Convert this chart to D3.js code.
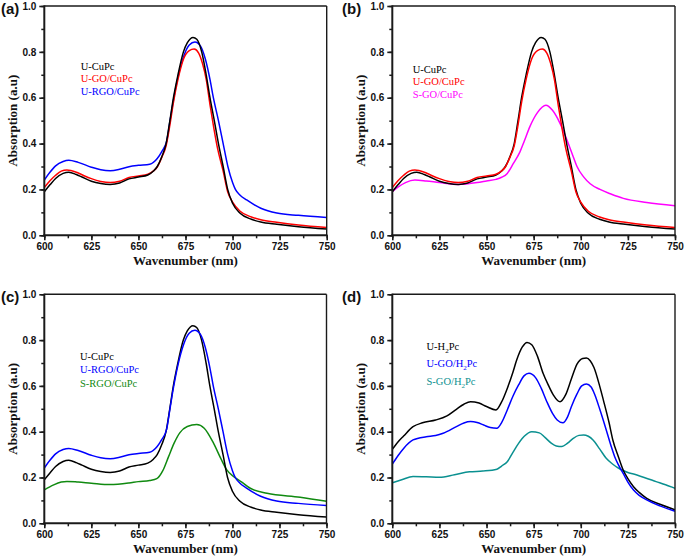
<!DOCTYPE html>
<html><head><meta charset="utf-8">
<script src="https://cdn.jsdelivr.net/npm/d3@7"></script>
<style>
body{margin:0;background:#fff;}
svg{display:block;}
</style>
</head><body>
<svg id="chart" width="685" height="557"></svg>
<script>
// ---- data (wavelength nm, absorption a.u.) ----
const uCuPc = [[600,0.19],[603,0.22],[606,0.248],[610,0.27],[613,0.275],[617,0.265],[620,0.254],[625,0.236],[630,0.226],[635,0.222],[640,0.228],[645,0.246],[650,0.254],[655,0.263],[658,0.28],[660,0.3],[662.4,0.343],[664.7,0.4],[666.7,0.5],[668.6,0.6],[671,0.7],[673.9,0.8],[676,0.84],[679,0.863],[681,0.855],[683.6,0.8],[686,0.7],[688,0.6],[690.3,0.5],[692.5,0.4],[695,0.3],[697.4,0.2],[700,0.14],[704,0.096],[710,0.07],[715,0.058],[723.5,0.048],[735,0.037],[750,0.027]];
const uGOCuPc = [[600,0.208],[603,0.238],[606,0.262],[609,0.28],[612,0.285],[617,0.275],[620,0.264],[625,0.247],[630,0.235],[635,0.23],[640,0.236],[645,0.252],[650,0.259],[655,0.266],[658,0.281],[660,0.298],[662.4,0.34],[664.7,0.39],[666.7,0.48],[668.6,0.58],[671,0.68],[674,0.77],[677,0.805],[679.6,0.812],[682,0.795],[684,0.75],[686,0.68],[688,0.57],[690,0.47],[692,0.38],[695,0.28],[697.4,0.19],[700,0.145],[704,0.105],[710,0.08],[715,0.068],[723.5,0.057],[735,0.045],[750,0.034]];
const uRGOCuPc = [[600,0.241],[603,0.275],[606,0.303],[610,0.322],[613,0.327],[618,0.318],[625,0.297],[630,0.286],[635,0.282],[640,0.288],[645,0.299],[650,0.305],[656,0.31],[660,0.335],[662.4,0.365],[665,0.41],[666.8,0.5],[668.6,0.59],[671,0.69],[674,0.78],[677,0.83],[680,0.843],[683,0.825],[685.5,0.77],[688,0.68],[689.8,0.6],[692.5,0.5],[695,0.4],[697.5,0.3],[700,0.23],[701.5,0.2],[704,0.175],[707.5,0.154],[715,0.118],[723.5,0.097],[735,0.087],[750,0.078]];
const sGOCuPc = [[600,0.19],[603,0.21],[607,0.23],[612,0.241],[618,0.237],[625,0.23],[635,0.222],[645,0.23],[650,0.237],[655,0.244],[658,0.253],[661,0.27],[664,0.31],[667.8,0.365],[670,0.41],[673,0.474],[677,0.535],[681.5,0.567],[685,0.545],[689,0.488],[692,0.43],[696,0.343],[698,0.3],[701.4,0.256],[705,0.225],[710.2,0.2],[716,0.18],[722.6,0.161],[735,0.143],[750,0.129]];
const sRGOCuPc = [[600,0.146],[605,0.168],[609,0.18],[612,0.183],[618,0.18],[625,0.175],[635,0.169],[645,0.176],[650,0.182],[656,0.187],[659.8,0.195],[663,0.23],[666,0.29],[669,0.35],[672,0.395],[676,0.423],[681,0.431],[685,0.415],[690,0.349],[694,0.28],[697,0.233],[700.7,0.204],[705,0.18],[709.5,0.153],[718.4,0.131],[736,0.114],[750,0.096]];
const uH2Pc = [[600,0.323],[603,0.355],[606,0.381],[611,0.422],[616,0.439],[623,0.451],[629,0.469],[634,0.498],[638,0.52],[641.5,0.531],[646,0.525],[650,0.51],[655,0.495],[658,0.53],[661,0.589],[664,0.66],[666,0.713],[669,0.77],[671.5,0.79],[674,0.78],[677,0.73],[680,0.655],[683,0.6],[685.5,0.56],[689,0.531],[692,0.562],[695,0.63],[698,0.695],[701,0.72],[703,0.722],[705,0.71],[707,0.68],[710,0.6],[712,0.538],[715,0.44],[717,0.364],[720,0.29],[722.5,0.233],[725,0.195],[728,0.16],[731,0.135],[735,0.109],[742,0.083],[750,0.059]];
const uGOH2Pc = [[600,0.258],[603,0.295],[606,0.327],[611,0.364],[618,0.378],[623,0.383],[627,0.393],[634,0.422],[638,0.438],[641.5,0.444],[645,0.44],[648.5,0.429],[652,0.418],[655.5,0.415],[658,0.44],[661,0.495],[664,0.555],[667,0.604],[670,0.645],[672.5,0.655],[676,0.636],[679,0.59],[682,0.531],[685,0.48],[687.5,0.451],[690.5,0.439],[693,0.465],[695,0.509],[698,0.565],[700.5,0.6],[703,0.608],[705.5,0.595],[707.5,0.56],[710,0.5],[713,0.422],[716,0.34],[718,0.291],[720,0.255],[722.5,0.218],[725,0.18],[728,0.145],[731,0.122],[735,0.102],[742,0.076],[750,0.053]];
const sGOH2Pc = [[600,0.177],[605,0.19],[611,0.204],[618,0.203],[625,0.201],[633,0.212],[641,0.225],[648,0.228],[655.5,0.236],[658,0.25],[661,0.269],[664,0.31],[667,0.349],[670,0.38],[674,0.4],[678,0.395],[681,0.375],[684.5,0.349],[687,0.338],[690,0.335],[693,0.35],[696,0.371],[699,0.384],[701.5,0.386],[704,0.38],[706.5,0.364],[710,0.325],[713.5,0.284],[717,0.258],[721,0.236],[725,0.222],[728,0.215],[734,0.199],[740,0.182],[745,0.168],[750,0.153]];

const xTicks = [600,625,650,675,700,725,750];
const yTicks = [0.0,0.2,0.4,0.6,0.8,1.0];
const xTitle = "Wavenumber (nm)";
const yTitle = "Absorption (a.u)";

// ---- layout ----
const C = {black:"#000000", red:"#ff0000", blue:"#0000ff", magenta:"#ff00ff", green:"#108a10", teal:"#0a9090"};
const panels = [
  {tag:"(a)", tagX:1, tagY:13.5, x0:44.3, x1:326.7, y0:6, y1:235.3, legX:80.7, legY:[69.5,82,94.5],
   series:[{name:"U-CuPc",d:uCuPc,c:C.black},{name:"U-GO/CuPc",d:uGOCuPc,c:C.red},{name:"U-RGO/CuPc",d:uRGOCuPc,c:C.blue}],
   draw:[2,1,0]},
  {tag:"(b)", tagX:342, tagY:13.5, x0:392.3, x1:675, y0:6, y1:235.3, legX:412.7, legY:[72.5,85,98],
   series:[{name:"U-CuPc",d:uCuPc,c:C.black},{name:"U-GO/CuPc",d:uGOCuPc,c:C.red},{name:"S-GO/CuPc",d:sGOCuPc,c:C.magenta}],
   draw:[2,0,1]},
  {tag:"(c)", tagX:1, tagY:302, x0:44.3, x1:326.5, y0:294.3, y1:523.3, legX:80, legY:[360,373.3,386.6],
   series:[{name:"U-CuPc",d:uCuPc,c:C.black},{name:"U-RGO/CuPc",d:uRGOCuPc,c:C.blue},{name:"S-RGO/CuPc",d:sRGOCuPc,c:C.green}],
   draw:[2,0,1]},
  {tag:"(d)", tagX:342, tagY:302, x0:392.3, x1:675, y0:294.3, y1:523.3, legX:426.5, legY:[350,367,384.5],
   series:[{name:"U-H|2|Pc",d:uH2Pc,c:C.black},{name:"U-GO/H|2|Pc",d:uGOH2Pc,c:C.blue},{name:"S-GO/H|2|Pc",d:sGOH2Pc,c:C.teal}],
   draw:[2,0,1]}
];

const svg = d3.select("#chart");
const defs = svg.append("defs");
const tickFont = "'Liberation Sans', Arial, sans-serif";
const serif = "'Liberation Serif', 'Times New Roman', serif";
const axisColor = "#1a1a1a";

panels.forEach((p, i) => {
  const x = d3.scaleLinear().domain([600,750]).range([p.x0,p.x1]);
  const y = d3.scaleLinear().domain([0,1]).range([p.y1,p.y0]);
  const g = svg.append("g");

  defs.append("clipPath").attr("id","clip"+i).append("rect")
    .attr("x",p.x0).attr("y",p.y0).attr("width",p.x1-p.x0).attr("height",p.y1-p.y0);

  // curves
  const line = d3.line().x(d=>x(d[0])).y(d=>y(d[1])).curve(d3.curveMonotoneX);
  const cg = g.append("g").attr("clip-path","url(#clip"+i+")");
  p.draw.forEach(k => {
    const s = p.series[k];
    cg.append("path").datum(s.d).attr("d",line)
      .attr("fill","none").attr("stroke",s.c).attr("stroke-width",1.5)
      .attr("stroke-linejoin","round");
  });

  // frame (top/right thinner)
  g.append("line").attr("x1",p.x0).attr("x2",p.x1).attr("y1",p.y0).attr("y2",p.y0).attr("stroke",axisColor).attr("stroke-width",1.4);
  g.append("line").attr("x1",p.x1).attr("x2",p.x1).attr("y1",p.y0).attr("y2",p.y1).attr("stroke",axisColor).attr("stroke-width",1.4);

  // minor ticks
  const xMinor = d3.range(600,750.1,12.5);
  const yMinor = d3.range(0,1.001,0.1);
  g.append("g").attr("transform",`translate(0,${p.y1})`)
    .call(d3.axisBottom(x).tickValues(xMinor).tickSize(3).tickSizeOuter(0).tickFormat(""))
    .call(a=>a.select(".domain").remove())
    .call(a=>a.selectAll("line").attr("stroke",axisColor).attr("stroke-width",1.5));
  g.append("g").attr("transform",`translate(${p.x0},0)`)
    .call(d3.axisLeft(y).tickValues(yMinor).tickSize(3).tickSizeOuter(0).tickFormat(""))
    .call(a=>a.select(".domain").remove())
    .call(a=>a.selectAll("line").attr("stroke",axisColor).attr("stroke-width",1.5));

  // major axes
  const xa = g.append("g").attr("transform",`translate(0,${p.y1})`)
    .call(d3.axisBottom(x).tickValues(xTicks).tickSize(5).tickSizeOuter(0).tickPadding(3).tickFormat(d3.format("d")));
  const ya = g.append("g").attr("transform",`translate(${p.x0},0)`)
    .call(d3.axisLeft(y).tickValues(yTicks).tickSize(5).tickSizeOuter(0).tickPadding(3).tickFormat(d3.format(".1f")));
  [xa,ya].forEach(a=>{
    a.select(".domain").attr("stroke",axisColor).attr("stroke-width",2);
    a.selectAll(".tick line").attr("stroke",axisColor).attr("stroke-width",1.6);
    a.selectAll(".tick text").attr("fill","#111").attr("font-family",tickFont)
      .attr("font-weight","bold").attr("font-size",10);
  });
  // extend domains to cover corners
  xa.select(".domain").attr("d",`M${p.x0-1},0H${p.x1+0.7}`);
  ya.select(".domain").attr("d",`M0,${p.y1+1}V${p.y0-0.7}`);

  // axis titles
  g.append("text").attr("x",(p.x0+p.x1)/2).attr("y",p.y1+29.5)
    .attr("text-anchor","middle").attr("font-family",serif).attr("font-weight","bold")
    .attr("font-size",13).attr("fill","#111").text(xTitle);
  g.append("text").attr("transform",`translate(${p.x0-27},${(p.y0+p.y1)/2}) rotate(-90)`)
    .attr("text-anchor","middle").attr("font-family",serif).attr("font-weight","bold")
    .attr("font-size",13).attr("fill","#111").text(yTitle);

  // panel tag
  g.append("text").attr("x",p.tagX).attr("y",p.tagY).attr("font-family",tickFont)
    .attr("font-weight","bold").attr("font-size",15).attr("fill","#111").text(p.tag);

  // legend (colored text)
  p.series.forEach((s,k)=>{
    const t = g.append("text").attr("x",p.legX).attr("y",p.legY[k])
      .attr("font-family",serif).attr("font-size",10.5).attr("fill",s.c);
    const parts = s.name.split("|");
    if (parts.length === 1) { t.text(s.name); }
    else {
      t.append("tspan").text(parts[0]);
      t.append("tspan").attr("font-size",7).attr("dy",3).text(parts[1]);
      t.append("tspan").attr("dy",-3).text(parts[2]);
    }
  });
});
</script>
</body></html>
